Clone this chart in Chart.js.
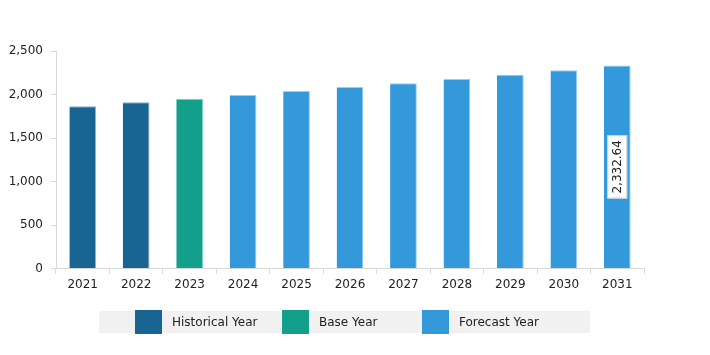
<!DOCTYPE html>
<html><head><meta charset="utf-8">
<script src="https://cdn.jsdelivr.net/npm/chart.js@4/dist/chart.umd.min.js"></script>
<style>
html,body{margin:0;padding:0;background:#fff;}
#wrap{position:relative;width:710px;height:355px;}
#legend{position:absolute;left:99px;top:311px;width:491px;height:22px;background:#f1f1f1;font-family:"DejaVu Sans",sans-serif;font-size:12px;color:#222;}
.item{position:absolute;top:-1px;height:24px;display:flex;align-items:center;}
.sw{width:27px;height:24px;margin-right:10px;}
</style></head>
<body><div id="wrap"><canvas id="c" width="710" height="355"></canvas><div id="legend"></div></div>
<script>
const categories = ["2021","2022","2023","2024","2025","2026","2027","2028","2029","2030","2031"];
const values = [1866, 1911, 1950, 1995, 2041, 2085, 2130, 2178, 2228, 2278, 2332.64];
const yearTypes = ["Historical Year","Historical Year","Base Year","Forecast Year","Forecast Year","Forecast Year","Forecast Year","Forecast Year","Forecast Year","Forecast Year","Forecast Year"];
const legendNames = ["Historical Year","Base Year","Forecast Year"];
const yTicks = [0, 500, 1000, 1500, 2000, 2500];
const labelIndex = 10;

const colorMap = {"Historical Year":"#186493","Base Year":"#13a08a","Forecast Year":"#3399db"};
const borderMap = {"Historical Year":"#8fb4cc","Base Year":"#7fcfc0","Forecast Year":"#9acdee"};
const legendX = [36, 183, 323];

const leg = document.getElementById('legend');
legendNames.forEach((n,i)=>{
  const d=document.createElement('div');d.className='item';d.style.left=legendX[i]+'px';
  const s=document.createElement('div');s.className='sw';s.style.background=colorMap[n];
  const t=document.createElement('span');t.textContent=n;
  d.appendChild(s);d.appendChild(t);leg.appendChild(d);
});

const valueLabel = {
  id:'valueLabel',
  afterDatasetsDraw(chart){
    const meta = chart.getDatasetMeta(0);
    const bar = meta.data[labelIndex];
    const v = values[labelIndex];
    const txt = v.toLocaleString('en-US',{minimumFractionDigits:2,maximumFractionDigits:2});
    const ctx = chart.ctx;
    const cx = bar.x, cy = (bar.y + bar.base)/2;
    ctx.save();
    ctx.translate(cx, cy);
    ctx.rotate(-Math.PI/2);
    ctx.font = '12px "DejaVu Sans", sans-serif';
    const w = ctx.measureText(txt).width;
    const bw = w + 10, bh = 20;
    ctx.fillStyle = '#ffffff';
    ctx.fillRect(-bw/2, -bh/2, bw, bh);
    ctx.strokeStyle = '#cccccc';
    ctx.lineWidth = 1;
    ctx.strokeRect(-bw/2+0.5, -bh/2+0.5, bw-1, bh-1);
    ctx.fillStyle = '#222';
    ctx.textAlign = 'center';
    ctx.textBaseline = 'middle';
    ctx.fillText(txt, 0, 1);
    ctx.restore();
  }
};

new Chart(document.getElementById('c'), {
  type:'bar',
  data:{
    labels: categories,
    datasets:[{
      data: values,
      backgroundColor: yearTypes.map(t=>colorMap[t]),
      borderColor: yearTypes.map(t=>borderMap[t]),
      borderWidth: {top:1,left:0,right:1,bottom:0},
      barPercentage: 0.5,
      categoryPercentage: 1.0
    }]
  },
  options:{
    responsive:false,
    animation:false,
    layout:{padding:{top:51,right:66,bottom:59,left:0}},
    plugins:{legend:{display:false},tooltip:{enabled:false}},
    scales:{
      x:{
        offset:true,
        grid:{offset:true,drawOnChartArea:false,tickLength:5,color:'#d9d9d9'},
        border:{color:'#d9d9d9'},
        ticks:{color:'#222',font:{family:'"DejaVu Sans", sans-serif',size:12},padding:4,maxRotation:0}
      },
      y:{
        min:0,max:2500,
        afterFit(s){s.width=56;},
        afterBuildTicks(s){s.ticks = yTicks.map(v=>({value:v}));},
        grid:{drawOnChartArea:false,tickLength:5,color:'#d9d9d9'},
        border:{color:'#d9d9d9'},
        ticks:{color:'#222',font:{family:'"DejaVu Sans", sans-serif',size:12},padding:8,
          callback:v=>v.toLocaleString('en-US')}
      }
    }
  },
  plugins:[valueLabel]
});
</script></body></html>
